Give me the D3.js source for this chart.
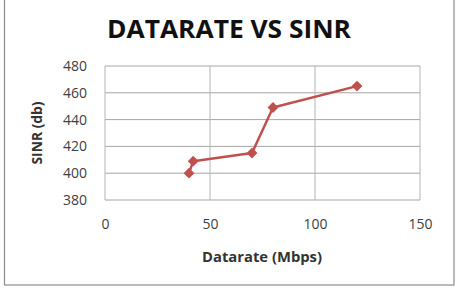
<!DOCTYPE html>
<html lang="en">
<head>
<meta charset="UTF-8">
<title>Datarate vs SINR</title>
<script src="https://d3js.org/d3.v7.min.js"></script>
<style>
  body { margin: 0; background: #fff; font-family: 'Open Sans', 'DejaVu Sans', sans-serif; }
  svg { display: block; }
</style>
</head>
<body>
<svg width="461" height="294"></svg>
<script>
// data
const datarate = [40, 42, 70, 80, 120];
const sinr = [400, 409, 415, 449, 465];
const xTicks = [0, 50, 100, 150];
const yTicks = [380, 400, 420, 440, 460, 480];

const svg = d3.select("svg");
const margin = {top: 66, right: 41, bottom: 94, left: 105};
const width = 461 - margin.left - margin.right,
      height = 294 - margin.top - margin.bottom;

// outer chart frame
svg.append("rect")
  .attr("x", 4.5).attr("y", -2).attr("width", 449.5).attr("height", 287)
  .attr("fill", "#fff").attr("stroke", "#8c8c8c").attr("stroke-width", 1.2);

const g = svg.append("g").attr("transform", `translate(${margin.left},${margin.top})`);

const x = d3.scaleLinear().domain([0, 150]).range([0, width]);
const y = d3.scaleLinear().domain([380, 480]).range([height, 0]);

// grid
g.selectAll(".hgrid").data(yTicks).join("line")
  .attr("x1", 0).attr("x2", width)
  .attr("y1", d => y(d)).attr("y2", d => y(d))
  .attr("stroke", "#a6a6a6").attr("stroke-width", 1);
g.selectAll(".vgrid").data(xTicks).join("line")
  .attr("y1", 0).attr("y2", height)
  .attr("x1", d => x(d)).attr("x2", d => x(d))
  .attr("stroke", "#b4b4b4").attr("stroke-width", 1);

// axes labels (no tick marks)
const yAxis = g.append("g").call(d3.axisLeft(y).tickValues(yTicks).tickSize(0).tickPadding(18));
yAxis.select(".domain").remove();
yAxis.selectAll("text").attr("font-size", "14px").attr("fill", "#404040")
  .attr("font-family", "'Open Sans', sans-serif");

const xAxis = g.append("g").attr("transform", `translate(0,${height})`)
  .call(d3.axisBottom(x).tickValues(xTicks).tickSize(0).tickPadding(19));
xAxis.select(".domain").remove();
xAxis.selectAll("text").attr("font-size", "14px").attr("fill", "#404040")
  .attr("font-family", "'Open Sans', sans-serif");

// line + diamond markers
const pts = datarate.map((d, i) => ({x: d, y: sinr[i]}));
g.append("path").datum(pts)
  .attr("fill", "none").attr("stroke", "#c0504d").attr("stroke-width", 2.5)
  .attr("stroke-linejoin", "round")
  .attr("d", d3.line().x(d => x(d.x)).y(d => y(d.y)));

g.selectAll(".pt").data(pts).join("path")
  .attr("transform", d => `translate(${x(d.x)},${y(d.y)})`)
  .attr("d", d3.symbol(d3.symbolDiamond2, 75))
  .attr("fill", "#c0504d");

// title
svg.append("text")
  .attr("x", 229).attr("y", 38)
  .attr("text-anchor", "middle")
  .attr("font-family", "'Open Sans', sans-serif")
  .attr("font-weight", "bold")
  .attr("font-size", "25px")
  .attr("fill", "#111")
  .attr("textLength", 244).attr("lengthAdjust", "spacingAndGlyphs")
  .text("DATARATE VS SINR");

// axis titles
svg.append("text")
  .attr("x", 262).attr("y", 262)
  .attr("text-anchor", "middle")
  .attr("font-weight", "bold").attr("font-size", "14px").attr("fill", "#333")
  .attr("textLength", 120).attr("lengthAdjust", "spacingAndGlyphs")
  .text("Datarate (Mbps)");

svg.append("text")
  .attr("transform", `translate(42,${margin.top + height / 2}) rotate(-90)`)
  .attr("text-anchor", "middle")
  .attr("font-weight", "bold").attr("font-size", "14px").attr("fill", "#333")
  .attr("textLength", 63).attr("lengthAdjust", "spacingAndGlyphs")
  .text("SINR (db)");
</script>
</body>
</html>
